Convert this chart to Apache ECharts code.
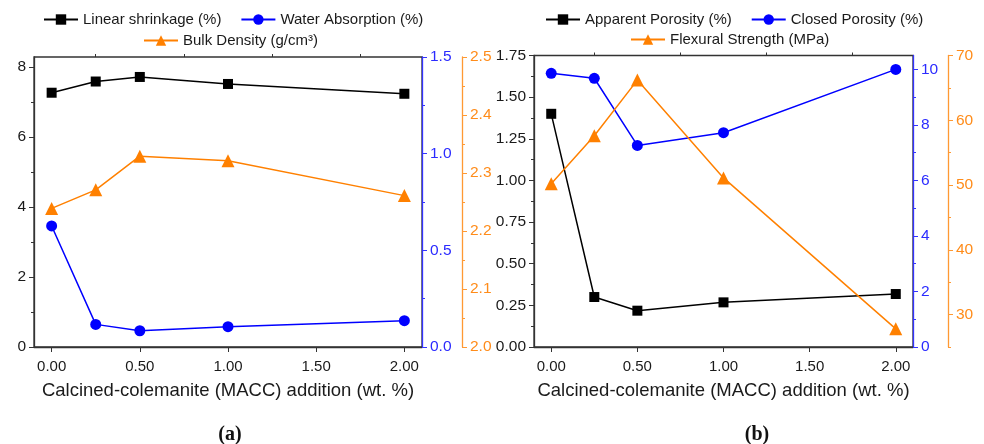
<!DOCTYPE html>
<html>
<head>
<meta charset="utf-8">
<script src="https://cdn.jsdelivr.net/npm/echarts@6/dist/echarts.min.js"></script>
<style>
  html, body { margin: 0; padding: 0; background: #fff; }
  #main { width: 984px; height: 444px; }
</style>
</head>
<body>
<div id="main"></div>
<script>
// x values (wt. % MACC)
var addition = [0, 0.25, 0.5, 1, 2];
var xTicks = [0, 0.5, 1, 1.5, 2];
var xMinor = [0.25, 0.75, 1.25, 1.75];

// panel (a)
var linearShrinkage = [7.26, 7.58, 7.71, 7.51, 7.23];
var waterAbsorption = [0.626, 0.117, 0.084, 0.105, 0.136];
var bulkDensity = [2.239, 2.271, 2.329, 2.321, 2.261];

// panel (b)
var apparentPorosity = [1.40, 0.30, 0.218, 0.268, 0.318];
var closedPorosity = [9.86, 9.68, 7.26, 7.72, 10.0];
var flexuralStrength = [50.2, 57.6, 66.2, 51.1, 27.8];

var BLACK = '#000000', BLUE = '#0000ff', ORANGE = '#ff8000';
var FONT = '"Liberation Sans", Arial, sans-serif';

function pairs(ys) {
  return addition.map(function (x, i) { return [x, ys[i]]; });
}

function range(a, b, step) {
  var out = [];
  for (var v = a; v <= b + 1e-9; v += step) out.push(+v.toFixed(4));
  return out;
}

function xAxes(grid) {
  return [{
    type: 'value', gridIndex: grid, min: -0.1, max: 2.1,
    splitLine: { show: false },
    axisLine: { onZero: false, lineStyle: { color: '#333', width: 1.3 } },
    axisTick: { length: 5, customValues: xTicks, lineStyle: { color: '#333' } },
    axisLabel: {
      customValues: xTicks, color: '#1a1a1a', fontSize: 15, margin: 12,
      formatter: function (v) { return v.toFixed(2); }
    },
    name: 'Calcined-colemanite (MACC) addition (wt. %)',
    nameLocation: 'middle', nameGap: 34,
    nameTextStyle: { fontSize: 18.5, color: '#1a1a1a' }
  }, {
    type: 'value', gridIndex: grid, min: -0.1, max: 2.1,
    splitLine: { show: false },
    axisLine: { show: false, onZero: false },
    axisTick: { length: 3, customValues: xMinor, lineStyle: { color: '#333' } },
    axisLabel: { show: false }
  }];
}

function yAxes(grid, position, offset, min, max, majors, minors, color, textColor, digits) {
  return [{
    type: 'value', gridIndex: grid, position: position, offset: offset,
    min: min, max: max,
    splitLine: { show: false },
    axisLine: { show: true, onZero: false, lineStyle: { color: color, width: 1.3 } },
    axisTick: { length: 5, customValues: majors, lineStyle: { color: color } },
    axisLabel: {
      customValues: majors, color: textColor, fontSize: 15.5, margin: 8,
      formatter: function (v) { return v.toFixed(digits); }
    }
  }, {
    type: 'value', gridIndex: grid, position: position, offset: offset,
    min: min, max: max,
    splitLine: { show: false },
    axisLine: { show: false, onZero: false },
    axisTick: { length: 3, customValues: minors, lineStyle: { color: color } },
    axisLabel: { show: false }
  }];
}

function line(name, ys, xi, yi, color, symbol, size) {
  return {
    name: name, type: 'line', xAxisIndex: xi, yAxisIndex: yi,
    data: pairs(ys),
    symbol: symbol, symbolSize: size,
    itemStyle: { color: color, borderColor: color, borderWidth: 0 },
    lineStyle: { color: color, width: 1.5 },
    z: 3
  };
}

var legendBase = {
  itemWidth: 34, itemHeight: 13, itemGap: 19, padding: 0,
  textStyle: { fontSize: 15, color: '#1a1a1a' },
  selectedMode: false
};

function legend(names, left, top) {
  return Object.assign({}, legendBase, { data: names, left: left, top: top });
}

var chart = echarts.init(document.getElementById('main'), null, { renderer: 'canvas' });

var option = {
  animation: false,
  backgroundColor: '#fff',
  textStyle: { fontFamily: FONT },
  grid: [
    { left: 34, top: 57, width: 388, height: 290, show: true, borderColor: '#333', borderWidth: 1.3 },
    { left: 534, top: 55.5, width: 379, height: 291.5, show: true, borderColor: '#333', borderWidth: 1.3 }
  ],
  legend: [
    legend(['Linear shrinkage (%)', 'Water Absorption (%)'], 43, 12),
    legend(['Bulk Density (g/cm³)'], 143, 33),
    legend(['Apparent Porosity (%)', 'Closed Porosity (%)'], 545, 12),
    legend(['Flexural Strength (MPa)'], 630, 32)
  ],
  xAxis: [].concat(xAxes(0), xAxes(1)),
  yAxis: [].concat(
    yAxes(0, 'left', 0, 0, 8.28, range(0, 8, 2), range(1, 7, 2), '#333', '#1a1a1a', 0),
    yAxes(0, 'right', 0, 0, 1.5, range(0, 1.5, 0.5), range(0.25, 1.25, 0.5), '#3333ff', '#2b2bff', 1),
    yAxes(0, 'right', 40, 2.0, 2.5, range(2.0, 2.5, 0.1), range(2.05, 2.45, 0.1), '#ff9933', '#ff8c1a', 1),
    yAxes(1, 'left', 0, 0, 1.75, range(0, 1.75, 0.25), range(0.125, 1.625, 0.25), '#333', '#1a1a1a', 2),
    yAxes(1, 'right', 0, 0, 10.5, range(0, 10, 2), range(1, 9, 2), '#3333ff', '#2b2bff', 0),
    yAxes(1, 'right', 35, 25, 70, range(30, 70, 10), range(25, 65, 10), '#ff9933', '#ff8c1a', 0)
  ),
  series: [
    line('Linear shrinkage (%)', linearShrinkage, 0, 0, BLACK, 'rect', 10),
    line('Water Absorption (%)', waterAbsorption, 0, 2, BLUE, 'circle', 11),
    line('Bulk Density (g/cm³)', bulkDensity, 0, 4, ORANGE, 'triangle', 13),
    line('Apparent Porosity (%)', apparentPorosity, 2, 6, BLACK, 'rect', 10),
    line('Closed Porosity (%)', closedPorosity, 2, 8, BLUE, 'circle', 11),
    line('Flexural Strength (MPa)', flexuralStrength, 2, 10, ORANGE, 'triangle', 13)
  ],
  graphic: [
    { type: 'text', x: 230, y: 435, style: { text: '(a)', font: 'bold 20px "Liberation Serif", "Times New Roman", serif', fill: '#111', align: 'center', verticalAlign: 'middle' } },
    { type: 'text', x: 757, y: 435, style: { text: '(b)', font: 'bold 20px "Liberation Serif", "Times New Roman", serif', fill: '#111', align: 'center', verticalAlign: 'middle' } }
  ]
};

chart.setOption(option);
</script>
</body>
</html>
